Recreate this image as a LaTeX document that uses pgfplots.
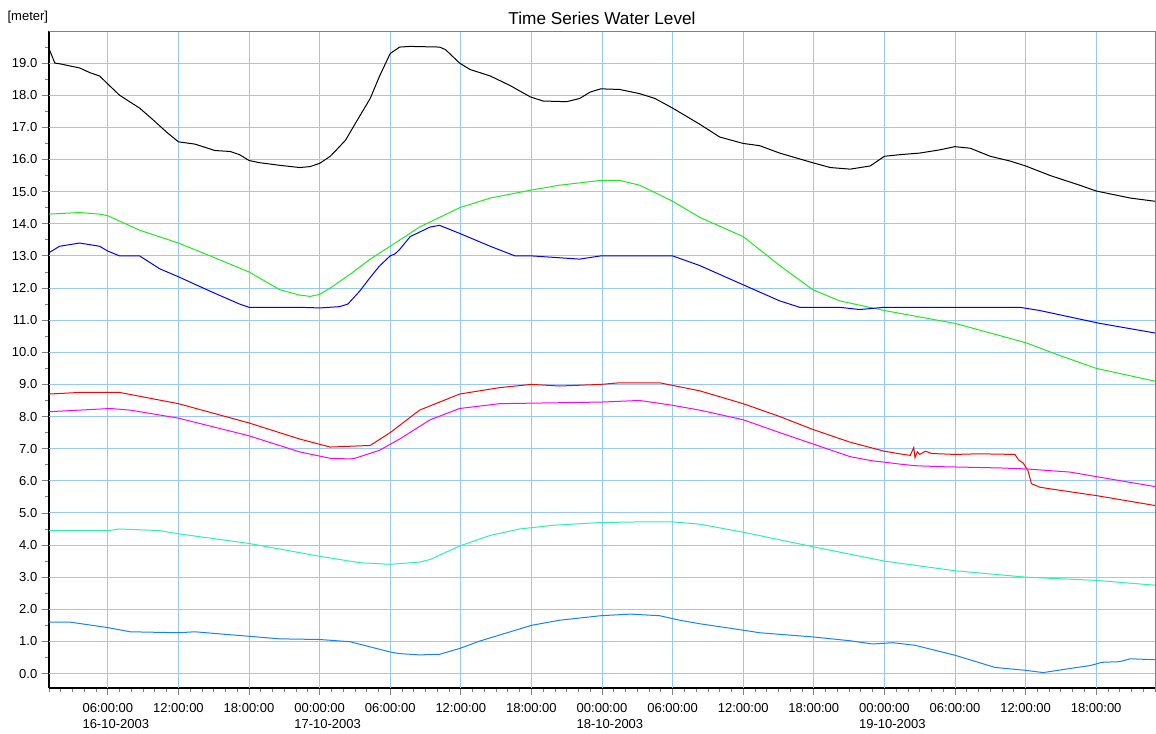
\documentclass[border=0pt]{standalone}
\usepackage{fontspec}
\setmainfont{Liberation Sans}
\usepackage{pgfplots}
\pgfplotsset{compat=1.18}
\usetikzlibrary{calc}

\definecolor{gridlight}{RGB}{150,200,255}
\definecolor{sgreen}{RGB}{30,235,30}
\definecolor{steal}{RGB}{40,245,170}
\definecolor{sblue}{RGB}{0,0,255}
\definecolor{lblue}{RGB}{20,130,255}
\definecolor{smag}{RGB}{255,0,255}

\begin{document}
\begin{tikzpicture}
\begin{axis}[
  scale only axis, width=829.5pt, height=492.75pt,
  xmin=1, xmax=95, ymin=-0.45, ymax=20,
  axis x line*=bottom, axis y line*=left,
  axis line style={line width=0.9pt},
  xtick={6,12,...,90},
  xticklabels={{06:00:00\\\rlap{16-10-2003}},12:00:00,18:00:00,{00:00:00\\\rlap{17-10-2003}},06:00:00,12:00:00,18:00:00,{00:00:00\\\rlap{18-10-2003}},06:00:00,12:00:00,18:00:00,{00:00:00\\\rlap{19-10-2003}},06:00:00,12:00:00,18:00:00},
  xticklabel style={align=left, yshift=-3pt, font=\fontsize{9.75}{12}\selectfont},
  minor xtick={1,...,95},
  ytick={0,...,19},
  minor ytick={-0.5,0.5,...,19.5},
  yticklabel style={font=\fontsize{9.75}{11}\selectfont, /pgf/number format/fixed, /pgf/number format/fixed zerofill, /pgf/number format/precision=1},
  /pgf/number format/assume math mode=true,
  tick align=outside,
  major tick length=5.25pt, minor tick length=3pt,
  major tick style={line width=0.6pt},
  minor tick style={line width=0.6pt},
  every axis plot/.append style={line width=0.75pt},
  clip=true,
]
\coordinate (SW) at (rel axis cs:0,0);
\coordinate (NE) at (rel axis cs:1,1);
\coordinate (NW) at (rel axis cs:0,1);
\coordinate (SE) at (rel axis cs:1,0);
\coordinate (TC) at (rel axis cs:0.5,1);
\pgfplotsinvokeforeach{6,12,18,24,30,36,42,48,54,60,66,72,78,84,90}{
  \draw[draw=gridlight, line width=0.65pt] (axis cs:#1,-0.45) -- (axis cs:#1,20);
}
\pgfplotsinvokeforeach{0,1,2,3,4,5,6,7,8,9,10,11,12,13,14,15,16,17,18,19}{
  \draw[draw=gridlight, line width=0.65pt] (axis cs:1,#1) -- (axis cs:95,#1);
}

% black
\addplot[black] table {
1.0 19.45
1.5 19.0
1.9 18.98
3.6 18.85
4.5 18.7
5.3 18.6
6.0 18.35
7.0 18.0
8.7 17.6
9.8 17.25
11.0 16.85
12.0 16.55
13.4 16.48
15.1 16.28
16.4 16.25
17.2 16.15
18.0 15.97
18.9 15.9
20.6 15.82
22.3 15.75
23.2 15.78
24.0 15.88
24.9 16.1
25.3 16.25
26.2 16.6
27.0 17.1
28.3 17.9
29.1 18.6
30.0 19.3
30.8 19.5
31.7 19.52
34.2 19.5
34.7 19.42
35.9 19.0
36.8 18.8
38.5 18.6
40.2 18.3
41.9 17.95
43.0 17.82
45.0 17.8
46.1 17.9
47.0 18.1
47.9 18.2
49.5 18.18
51.2 18.05
52.5 17.9
54.0 17.6
56.3 17.1
58.0 16.7
60.0 16.5
61.4 16.43
63.1 16.2
65.9 15.9
67.4 15.75
69.1 15.7
70.8 15.8
72.0 16.1
73.3 16.15
75.0 16.2
76.7 16.3
78.0 16.4
79.3 16.35
81.0 16.1
82.7 15.95
84.0 15.8
86.1 15.5
88.6 15.2
90.0 15.02
92.9 14.8
95.0 14.7
};

% green
\addplot[sgreen] table {
1.0 14.3
3.6 14.35
5.3 14.3
6.0 14.25
8.7 13.8
12.0 13.4
14.7 13.0
18.0 12.5
20.6 11.95
22.3 11.78
23.2 11.74
24.0 11.8
24.9 12.0
26.6 12.43
28.3 12.9
30.0 13.3
32.5 13.9
34.2 14.2
35.9 14.5
38.5 14.8
42.0 15.05
44.4 15.2
47.9 15.35
49.5 15.35
51.2 15.2
52.9 14.9
54.0 14.7
56.3 14.2
60.0 13.6
63.1 12.7
65.9 11.95
68.2 11.6
72.0 11.3
75.0 11.1
78.0 10.9
81.0 10.6
84.0 10.3
86.9 9.9
90.0 9.5
95.0 9.1
};

% blue
\addplot[sblue] table {
1.0 13.1
1.9 13.3
3.6 13.4
5.3 13.3
6.0 13.15
7.0 13.0
8.7 13.0
10.4 12.6
12.0 12.35
14.7 11.9
17.2 11.5
18.0 11.4
22.3 11.4
24.0 11.38
25.7 11.42
26.4 11.5
27.4 11.9
28.3 12.33
29.1 12.69
30.0 13.0
30.4 13.06
30.8 13.2
31.7 13.6
33.4 13.9
34.2 13.95
35.9 13.7
38.5 13.3
40.6 13.0
42.0 13.0
46.1 12.9
47.9 13.0
54.0 13.0
56.3 12.7
60.0 12.1
63.1 11.6
64.8 11.4
68.2 11.4
69.9 11.33
72.0 11.4
83.5 11.4
85.2 11.3
90.3 10.9
95.0 10.6
};

% red
\addplot[red] table {
1.0 8.7
3.6 8.75
7.0 8.75
12.0 8.4
18.0 7.8
22.3 7.3
24.9 7.05
28.3 7.1
30.0 7.5
32.5 8.2
35.9 8.7
39.3 8.9
42.0 9.0
44.4 8.95
47.9 9.0
49.5 9.05
52.9 9.05
56.3 8.8
60.0 8.4
63.1 8.0
65.9 7.6
69.1 7.2
72.0 6.92
73.3 6.84
74.2 6.79
74.5 7.04
74.6 6.72
74.8 6.9
75.0 6.82
75.5 6.92
76.0 6.85
78.0 6.82
80.0 6.84
83.1 6.82
83.4 6.65
83.8 6.55
84.2 6.32
84.5 5.91
85.2 5.8
87.0 5.7
90.0 5.54
95.0 5.23
};

% magenta
\addplot[smag] table {
1.0 8.15
3.6 8.2
6.2 8.25
7.9 8.2
12.0 7.95
18.0 7.4
22.3 6.9
24.9 6.7
26.6 6.68
27.0 6.7
29.1 6.95
30.8 7.3
33.4 7.9
35.9 8.25
39.3 8.4
47.9 8.45
51.2 8.5
54.0 8.35
56.3 8.2
60.0 7.9
63.1 7.5
65.9 7.15
69.1 6.75
71.0 6.62
72.0 6.58
73.3 6.52
74.6 6.47
76.7 6.44
81.8 6.4
84.0 6.37
87.8 6.27
90.0 6.13
95.0 5.82
};

% teal
\addplot[steal] table {
1.0 4.45
6.0 4.45
7.0 4.5
10.4 4.45
12.0 4.35
18.0 4.05
24.0 3.65
27.4 3.45
30.0 3.4
32.5 3.47
33.4 3.55
35.9 3.97
38.5 4.3
41.0 4.5
44.0 4.62
47.9 4.7
51.2 4.72
54.0 4.72
56.3 4.65
60.0 4.4
65.9 3.95
72.0 3.5
78.0 3.2
84.0 3.0
90.0 2.9
95.0 2.75
};

% light blue
\addplot[lblue] table {
1.0 1.6
2.8 1.6
6.0 1.43
7.9 1.3
12.0 1.27
13.4 1.3
15.0 1.25
18.0 1.16
20.6 1.08
24.0 1.06
26.6 0.99
28.3 0.83
30.0 0.67
30.8 0.62
32.5 0.58
34.2 0.6
35.9 0.78
37.6 1.01
42.0 1.5
44.4 1.66
47.9 1.8
50.4 1.85
52.9 1.8
54.6 1.66
56.3 1.55
60.0 1.35
61.4 1.27
65.9 1.14
69.1 1.02
71.0 0.92
72.7 0.96
74.6 0.88
78.0 0.57
81.4 0.19
84.0 0.1
85.5 0.03
88.0 0.17
89.5 0.25
90.5 0.35
92.0 0.37
92.9 0.46
95.0 0.43
};
\end{axis}
\draw[gray, line width=0.6pt] (SE) -- (NE) -- (NW);
\node[anchor=base, inner sep=0pt, font=\fontsize{12.9}{15}\selectfont] at ($(TC)+(0,4.5pt)$) {Time Series Water Level};
\node[anchor=south east, inner sep=0pt, font=\fontsize{9.75}{11}\selectfont] at ($(NW)+(-0.5pt,6pt)$) {[meter]};
\pgfresetboundingbox
\path ($(SW)+(-36.75pt,-33.75pt)$) rectangle ($(NE)+(0.75pt,23.25pt)$);
\end{tikzpicture}
\end{document}
